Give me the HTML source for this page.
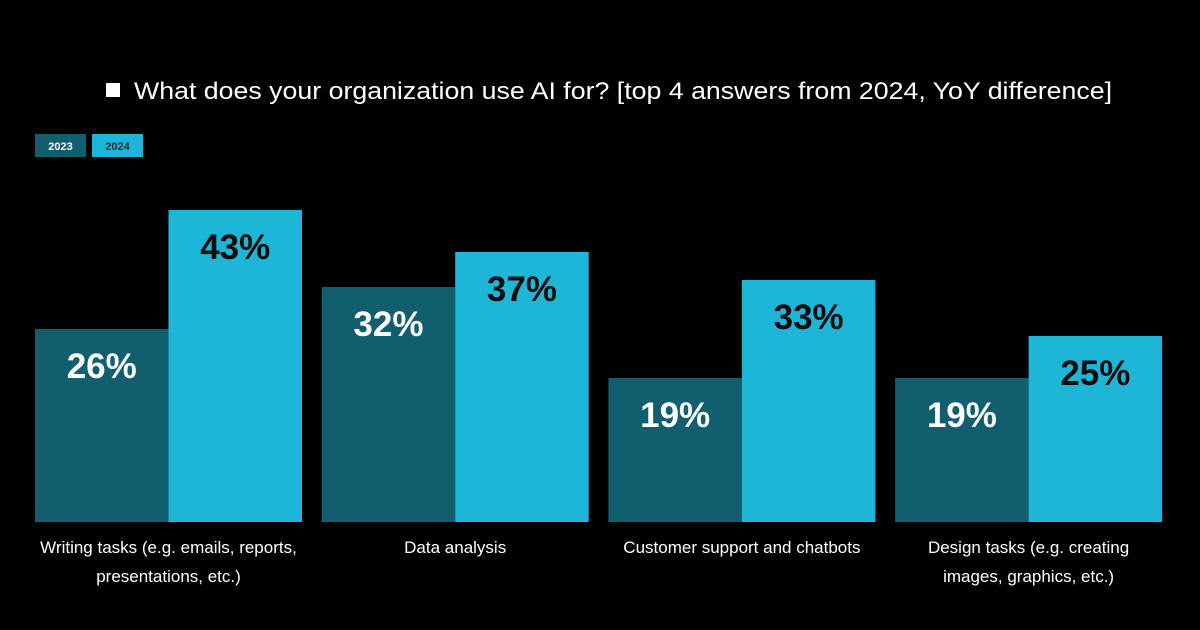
<!DOCTYPE html>
<html><head><meta charset="utf-8"><style>
html,body{margin:0;padding:0;background:#000;}
svg{display:block;font-family:"Liberation Sans",sans-serif;}
</style></head><body>
<svg id="chart" width="1200" height="630" viewBox="0 0 1200 630">
<rect width="1200" height="630" fill="#000"/>
<rect x="106" y="83" width="14" height="14" fill="#fff"/>
<text x="134" y="99" fill="#fff" font-size="24" textLength="978" lengthAdjust="spacingAndGlyphs">What does your organization use AI for? [top 4 answers from 2024, YoY difference]</text>
<g>
<rect x="35" y="134" width="51" height="23" fill="#115e6e"/>
<text x="60.5" y="150" fill="#fff" font-size="11" font-weight="bold" text-anchor="middle">2023</text>
<rect x="92" y="134" width="51" height="23" fill="#1eb6d6"/>
<text x="117.5" y="150" fill="#0a2a33" font-size="11" font-weight="bold" text-anchor="middle">2024</text>
</g>
<g id="bars"></g>
</svg>
<script>
const categories = [["Writing tasks (e.g. emails, reports,","presentations, etc.)"],["Data analysis"],["Customer support and chatbots"],["Design tasks (e.g. creating","images, graphics, etc.)"]];
const values2023 = [26, 32, 19, 19];
const values2024 = [43, 37, 33, 25];

const baseY = 522, pxPerPct = 7.0, baseOffset = 11, groupStart = 35, groupStep = 286.7, barW = 133.5;
function y(v){ return baseY - baseOffset - v*pxPerPct; }
const ns = "http://www.w3.org/2000/svg";
const g = document.getElementById('bars');
function mk(tag, attrs){ const e=document.createElementNS(ns,tag); for(const k in attrs) e.setAttribute(k,attrs[k]); return e; }
categories.forEach((cat,i)=>{
  const x0 = groupStart + i*groupStep;
  [[values2023[i],'#115e6e','#fff','2023'],[values2024[i],'#1eb6d6','#0b0b0b','2024']].forEach((s,j)=>{
    const x = x0 + j*barW;
    const r = mk('rect',{x:x,y:y(s[0]),width:barW,height:baseY-y(s[0]),fill:s[1]});
    
    
    g.appendChild(r);
    const t = mk('text',{x:x+barW/2,y:y(s[0])+49,fill:s[2],'font-size':'35','font-weight':'bold','text-anchor':'middle'});
    t.textContent = s[0] + '%';
    
    
    g.appendChild(t);
  });
  cat.forEach((line,k)=>{
    const t = mk('text',{x:x0+barW,y:553+k*29,fill:'#fff','font-size':'17','text-anchor':'middle'});
    t.textContent = line;
    
    
    g.appendChild(t);
  });
});
</script>
</body></html>
